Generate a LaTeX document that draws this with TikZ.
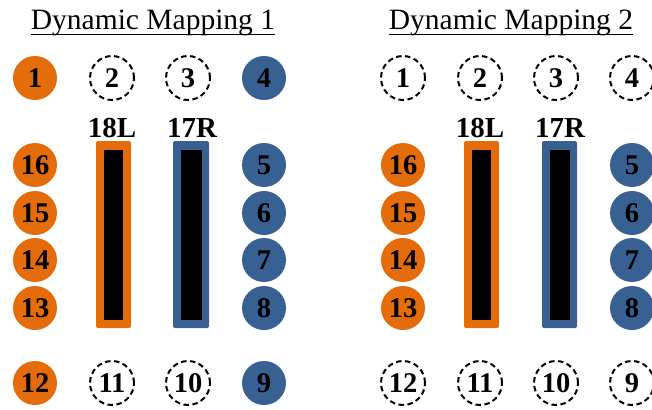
\documentclass[tikz,border=0pt]{standalone}
\usepackage{fontspec}
\setmainfont{Liberation Serif}
\definecolor{orng}{RGB}{228,108,10}
\definecolor{blu}{RGB}{56,96,146}
\begin{document}
\begin{tikzpicture}[x=1pt,y=-1pt,
  gate/.style={circle,minimum size=44pt,inner sep=0pt,font=\fontsize{28.5}{28.5}\selectfont\bfseries},
  ogate/.style={gate,fill=orng},
  bgate/.style={gate,fill=blu},
  egate/.style={gate,draw=black,line width=2pt,dash pattern=on 5.5pt off 3.5pt,minimum size=44pt},
  rwlabel/.style={font=\fontsize{29}{29}\selectfont\bfseries,anchor=base},
  title/.style={font=\fontsize{29.5}{29.5}\selectfont,anchor=base,inner sep=0pt},
  uline/.style={line width=1.4pt},
  outerbar/.style={rounded corners=2pt},
]
\useasboundingbox (0,0) rectangle (652,409);
% titles
\node[title] (t1) at (153,30) {Dynamic Mapping 1};
\node[title] (t2) at (511,30) {Dynamic Mapping 2};
\coordinate (u1a) at ([yshift=-4.5pt]t1.base west);
\coordinate (u1b) at ([yshift=-4.5pt]t1.base east);
\coordinate (u2a) at ([yshift=-4.5pt]t2.base west);
\coordinate (u2b) at ([yshift=-4.5pt]t2.base east);
\draw[uline] (u1a) -- (u1b);
\draw[uline] (u2a) -- (u2b);
% ===== panel 1 =====
\node[ogate] (a1) at (35,78) {1};
\node[egate] (a2) at (112,78) {2};
\node[egate] (a3) at (188,78) {3};
\node[bgate] (a4) at (264,78) {4};
\node[ogate] (a16) at (35,165) {16};
\node[ogate] (a15) at (35,213) {15};
\node[ogate] (a14) at (35,260) {14};
\node[ogate] (a13) at (35,308) {13};
\node[bgate] (a5) at (264,165) {5};
\node[bgate] (a6) at (264,213) {6};
\node[bgate] (a7) at (264,260) {7};
\node[bgate] (a8) at (264,308) {8};
\node[ogate] (a12) at (35,383) {12};
\node[egate] (a11) at (112,383) {11};
\node[egate] (a10) at (188,383) {10};
\node[bgate] (a9) at (264,383) {9};
\node[rwlabel] (l18a) at (112,137) {18L};
\node[rwlabel] (l17a) at (192,137) {17R};
\fill[orng,outerbar] (96,141) rectangle (131,328);
\fill[black] (104,150) rectangle (123,320);
\fill[blu,outerbar] (173,141) rectangle (209,328);
\fill[black] (181,150) rectangle (202,320);
% ===== panel 2 =====
\begin{scope}[xshift=368pt]
\node[egate] (b1) at (35,78) {1};
\node[egate] (b2) at (112,78) {2};
\node[egate] (b3) at (188,78) {3};
\node[egate] (b4) at (264,78) {4};
\node[ogate] (b16) at (35,165) {16};
\node[ogate] (b15) at (35,213) {15};
\node[ogate] (b14) at (35,260) {14};
\node[ogate] (b13) at (35,308) {13};
\node[bgate] (b5) at (264,165) {5};
\node[bgate] (b6) at (264,213) {6};
\node[bgate] (b7) at (264,260) {7};
\node[bgate] (b8) at (264,308) {8};
\node[egate] (b12) at (35,383) {12};
\node[egate] (b11) at (112,383) {11};
\node[egate] (b10) at (188,383) {10};
\node[egate] (b9) at (264,383) {9};
\node[rwlabel] (l18b) at (112,137) {18L};
\node[rwlabel] (l17b) at (192,137) {17R};
\fill[orng,outerbar] (96,141) rectangle (131,328);
\fill[black] (104,150) rectangle (123,320);
\fill[blu,outerbar] (174,141) rectangle (209,328);
\fill[black] (182,150) rectangle (202,320);
\end{scope}
\end{tikzpicture}
\end{document}
